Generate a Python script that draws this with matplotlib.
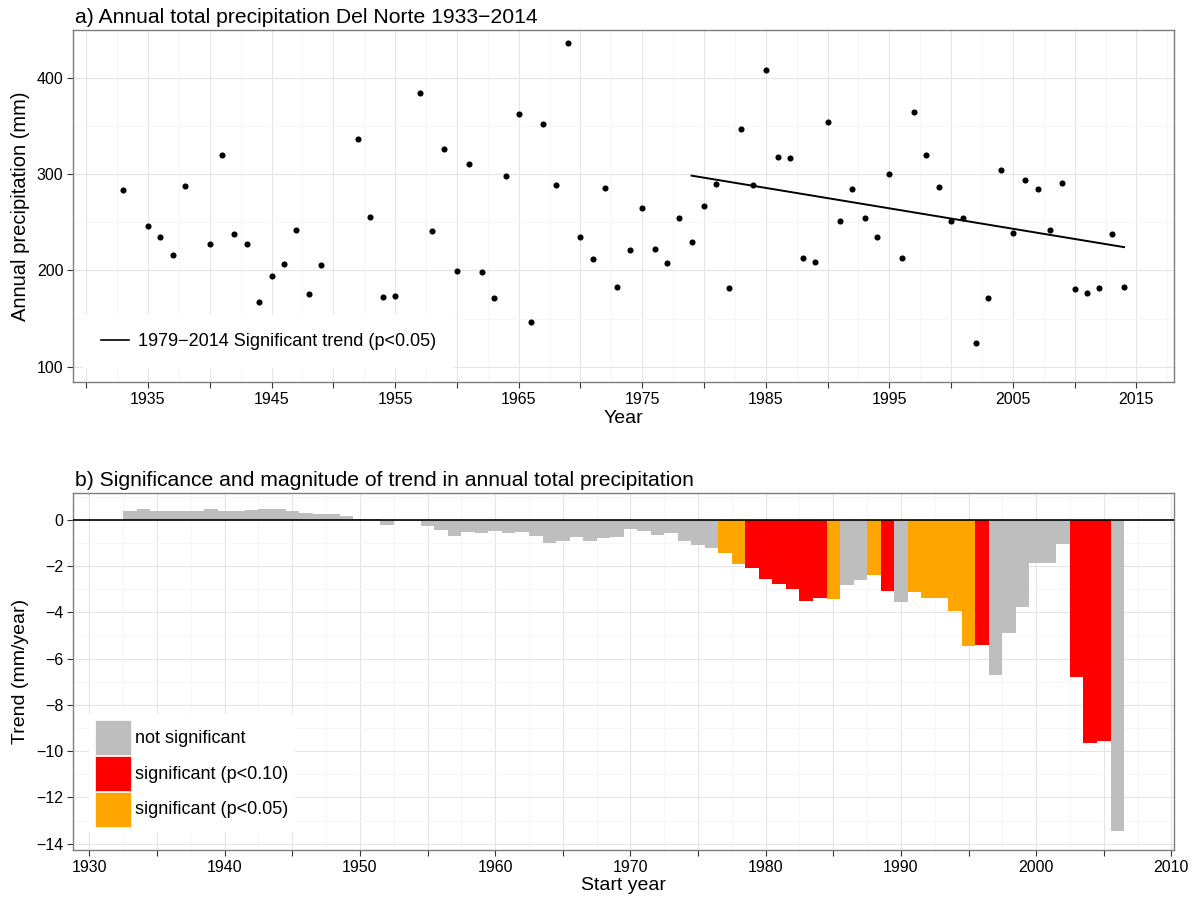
import numpy as np
import matplotlib
matplotlib.use("Agg")
import matplotlib.pyplot as plt
from matplotlib.lines import Line2D
from matplotlib.patches import Patch
from matplotlib.ticker import MultipleLocator, FixedLocator

plt.rcParams['font.family'] = ['Liberation Sans', 'DejaVu Sans']

# ---------------- data: panel a ----------------
precip_years = [1933, 1935, 1936, 1937, 1938, 1940, 1941, 1942, 1943, 1944,
                1945, 1946, 1947, 1948, 1949, 1952, 1953, 1954, 1955, 1957,
                1958, 1959, 1960, 1961, 1962, 1963, 1964, 1965, 1966, 1967,
                1968, 1969, 1970, 1971, 1972, 1973, 1974, 1975, 1976, 1977,
                1978, 1979, 1980, 1981, 1982, 1983, 1984, 1985, 1986, 1987,
                1988, 1989, 1990, 1991, 1992, 1993, 1994, 1995, 1996, 1997,
                1998, 1999, 2000, 2001, 2002, 2003, 2004, 2005, 2006, 2007,
                2008, 2009, 2010, 2011, 2012, 2013, 2014]
precip_mm = [284, 246, 235, 216, 288, 227, 320, 238, 227, 167,
             194, 207, 242, 176, 206, 337, 256, 172, 173, 384,
             241, 326, 199, 311, 198, 171, 298, 363, 146, 352,
             289, 436, 235, 212, 286, 183, 221, 265, 222, 208,
             254, 230, 267, 290, 182, 347, 289, 408, 318, 317,
             213, 209, 354, 251, 285, 255, 235, 300, 213, 365,
             320, 287, 251, 255, 125, 171, 304, 239, 294, 285,
             242, 291, 181, 177, 182, 238, 183]
trend_years = [1979, 2014]
trend_line_mm = [298.5, 224.2]
trend_label = "1979\u22122014 Significant trend (p<0.05)"

# ---------------- data: panel b ----------------
start_years = list(range(1933, 2007))
trend_mm_per_year = [0.40, 0.49, 0.37, 0.39, 0.39, 0.39, 0.49, 0.37, 0.37, 0.44,
                     0.49, 0.49, 0.40, 0.32, 0.24, 0.24, 0.15, 0.06, 0.02, -0.23,
                     -0.02, -0.03, -0.25, -0.45, -0.71, -0.50, -0.58, -0.46, -0.58, -0.50,
                     -0.71, -1.01, -0.89, -0.72, -0.92, -0.76, -0.72, -0.38, -0.46, -0.66,
                     -0.55, -0.89, -1.10, -1.20, -1.44, -1.92, -2.09, -2.56, -2.78, -2.99,
                     -3.51, -3.38, -3.43, -2.82, -2.61, -2.39, -3.08, -3.56, -3.12, -3.38,
                     -3.38, -3.94, -5.45, -5.41, -6.71, -4.89, -3.77, -1.87, -1.87, -1.05,
                     -6.79, -9.64, -9.56, -13.44]
significance = (['ns'] * 44 + ['p05'] * 2 + ['p10'] * 6 + ['p05'] + ['ns'] * 2
                + ['p05'] + ['p10'] + ['ns'] + ['p05'] * 5 + ['p10'] + ['ns'] * 6
                + ['p10'] * 3 + ['ns'])
sig_levels = ['ns', 'p10', 'p05']
sig_labels = ['not significant', 'significant (p<0.10)', 'significant (p<0.05)']
sig_colors = {'ns': '#BEBEBE', 'p10': '#FF0000', 'p05': '#FFA500'}

# ---------------- style helpers ----------------
def style_axes(ax):
    ax.set_axisbelow(True)
    ax.grid(which='major', color='#E5E5E5', linewidth=0.8)
    ax.grid(which='minor', color='#F5F5F5', linewidth=0.6)
    for s in ax.spines.values():
        s.set_color('#7F7F7F')
        s.set_linewidth(1.0)
    ax.tick_params(which='major', length=4, width=0.8, color='#333333',
                   labelsize=11.5, labelcolor='black', pad=3)
    ax.tick_params(which='minor', length=0)


fig = plt.figure(figsize=(11.96, 8.98), dpi=100)

# ---------------- panel a ----------------
ax1 = fig.add_axes([0.0612, 0.5746, 0.9205, 0.3921])
style_axes(ax1)
ax1.plot(precip_years, precip_mm, 'o', color='black', markersize=4.4,
         markeredgewidth=0, zorder=3)
ax1.plot(trend_years, trend_line_mm, color='black', linewidth=1.4, zorder=3)
ax1.set_xlim(1928.95, 2018.05)
ax1.set_ylim(84, 450)
xt = list(range(1930, 2016, 5))
ax1.xaxis.set_major_locator(FixedLocator(xt))
ax1.set_xticklabels([str(y) if y % 10 == 5 else '' for y in xt])
ax1.xaxis.set_minor_locator(FixedLocator([y + 2.5 for y in xt]))
ax1.yaxis.set_major_locator(FixedLocator([100, 200, 300, 400]))
ax1.yaxis.set_minor_locator(FixedLocator([150, 250, 350, 450]))
ax1.set_xlabel('Year', fontsize=14, labelpad=2)
ax1.set_ylabel('Annual precipitation (mm)', fontsize=14.5, labelpad=5)
ax1.set_title('a) Annual total precipitation Del Norte 1933\u22122014',
              loc='left', fontsize=15.2, pad=5, x=0.002)
ax1.legend([Line2D([0], [0], color='black', linewidth=1.2)], [trend_label],
           loc='lower left', bbox_to_anchor=(0.0085, 0.04), fontsize=13,
           frameon=True, fancybox=False, framealpha=1, edgecolor='none',
           facecolor='white', handlelength=1.6, handletextpad=0.45,
           borderpad=1.0, borderaxespad=0)

# ---------------- panel b ----------------
ax2 = fig.add_axes([0.0612, 0.0535, 0.9205, 0.3975])
style_axes(ax2)
ax2.bar(start_years, trend_mm_per_year, width=1.0,
        color=[sig_colors[s] for s in significance], linewidth=0, zorder=2)
ax2.axhline(0, color='black', linewidth=1.2, zorder=3)
ax2.set_xlim(1928.8, 2010.2)
ax2.set_ylim(-14.27, 1.165)
xt2 = list(range(1930, 2011, 5))
ax2.xaxis.set_major_locator(FixedLocator(xt2))
ax2.set_xticklabels([str(y) if y % 10 == 0 else '' for y in xt2])
ax2.xaxis.set_minor_locator(FixedLocator([y + 2.5 for y in xt2]))
ax2.yaxis.set_major_locator(MultipleLocator(2))
ax2.yaxis.set_minor_locator(FixedLocator(np.arange(-15, 2, 2)))
ax2.set_yticklabels([f'{int(v)}'.replace('-', '\u2212') for v in ax2.get_yticks()])
ax2.set_xlabel('Start year', fontsize=14, labelpad=2)
ax2.set_ylabel('Trend (mm/year)', fontsize=14, labelpad=5)
ax2.set_title('b) Significance and magnitude of trend in annual total precipitation',
              loc='left', fontsize=15.2, pad=5, x=0.002)
handles = [Patch(facecolor=sig_colors[k], edgecolor='white', linewidth=0.5)
           for k in sig_levels]
ax2.legend(handles, sig_labels, loc='lower left', bbox_to_anchor=(0.0145, 0.048),
           fontsize=13, frameon=True, fancybox=False, framealpha=1,
           edgecolor='none', facecolor='white', handlelength=1.95,
           handleheight=2.6, handletextpad=0.25, labelspacing=0.05,
           borderpad=0.35, borderaxespad=0)

fig.savefig('out.png', dpi=100)
